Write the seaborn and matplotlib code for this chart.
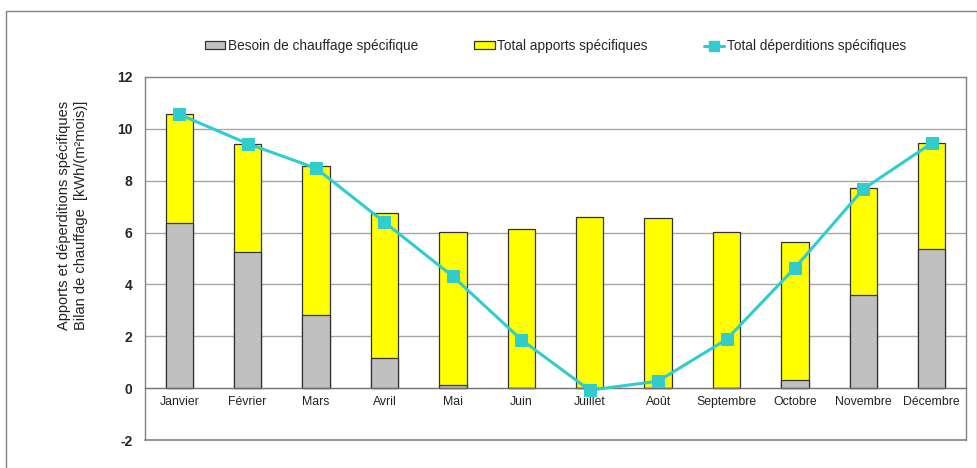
import matplotlib
matplotlib.use('Agg')
import numpy as np
import pandas as pd
import matplotlib.pyplot as plt
from matplotlib.patches import Patch, Rectangle
from matplotlib.lines import Line2D
import seaborn as sns

mois = ['Janvier', 'Février', 'Mars', 'Avril', 'Mai', 'Juin', 'Juillet',
        'Août', 'Septembre', 'Octobre', 'Novembre', 'Décembre']
besoin = [6.35, 5.24, 2.83, 1.17, 0.11, 0.0, 0.0, 0.0, 0.0, 0.31, 3.58, 5.36]
apports = [4.21, 4.19, 5.74, 5.58, 5.93, 6.14, 6.60, 6.55, 6.01, 5.31, 4.12, 4.09]
deperditions = [10.56, 9.43, 8.48, 6.40, 4.31, 1.87, -0.08, 0.27, 1.88, 4.64, 7.68, 9.45]
y_ticks = [-2, 0, 2, 4, 6, 8, 10, 12]

sns.set_style('white')
plt.rcParams['font.family'] = ['Liberation Sans', 'DejaVu Sans']
plt.rcParams['axes.unicode_minus'] = False

df = pd.DataFrame({'mois': mois, 'besoin': besoin, 'apports': apports,
                   'deperditions': deperditions})
df['total'] = df['besoin'] + df['apports']

GRAY = '#C0C0C0'
YELLOW = '#FFFF00'
CYAN = '#33CCCC'
BOX = '#808080'

fig = plt.figure(figsize=(9.78, 4.68), dpi=100)
ax = fig.add_axes([145 / 978, 1 - 440 / 468, 821 / 978, 363 / 468])

# yellow = besoin + apports, gray drawn over the lower part
sns.barplot(x='mois', y='total', data=df, color=YELLOW, saturation=1, width=0.4,
            edgecolor='#333333', linewidth=0.9, ax=ax, zorder=2)
sns.barplot(x='mois', y='besoin', data=df, color=GRAY, saturation=1, width=0.4,
            edgecolor='#333333', linewidth=0.9, ax=ax, zorder=2)
sns.lineplot(x=np.arange(len(mois)), y=df['deperditions'], color=CYAN, marker='s',
             markersize=9, markeredgecolor=CYAN, linewidth=2.2, ax=ax, zorder=4)

ax.set_xlim(-0.5, len(mois) - 0.5)
ax.set_ylim(-2, 12)
ax.set_yticks(y_ticks)
ax.set_xlabel('')
ax.set_ylabel('')

for v in [2, 4, 6, 8, 10]:
    ax.axhline(v, color='#A6A6A6', lw=1, zorder=0)

# x axis sits at zero, box closes at -2
for s in ['top', 'left', 'right']:
    ax.spines[s].set_color(BOX)
    ax.spines[s].set_linewidth(1)
ax.spines['bottom'].set_position(('data', 0))
ax.spines['bottom'].set_color('#707070')
ax.spines['bottom'].set_linewidth(1)
ax.axhline(-2, color=BOX, lw=1.2, clip_on=False, zorder=5)

ax.set_xticks(np.arange(-0.5, len(mois), 1), minor=True)
ax.tick_params(axis='x', which='major', length=0, pad=6, labelsize=8.8, colors='#222222')
ax.tick_params(axis='x', which='minor', length=4, direction='out', color=BOX)
ax.tick_params(axis='y', length=5, direction='out', color=BOX, pad=4, labelsize=10)
for t in ax.get_yticklabels():
    t.set_fontweight('bold')

fig.text(72.5 / 978, 1 - 215 / 468,
         'Apports et déperditions spécifiques\nBilan de chauffage  [kWh/(m²mois)]',
         rotation=90, ha='center', va='center', multialignment='center',
         fontsize=10.5, color='#222222', linespacing=1.35)

handles = [Patch(facecolor=GRAY, edgecolor='#333333', lw=0.9),
           Patch(facecolor=YELLOW, edgecolor='#333333', lw=0.9),
           Line2D([], [], color=CYAN, marker='s', markersize=7, lw=2.2)]
labels = ['Besoin de chauffage spécifique', 'Total apports spécifiques',
          'Total déperditions spécifiques']
fig.legend(handles, labels, ncol=3, loc='center', bbox_to_anchor=(0.568, 1 - 46 / 468),
           frameon=False, fontsize=9.8, handlelength=1.5, handleheight=0.5,
           handletextpad=0.2, columnspacing=4.1)

fig.add_artist(Rectangle((6 / 978, -0.05), 971 / 978, 457 / 468 + 0.05,
                         transform=fig.transFigure, fill=False, ec=BOX, lw=1))

fig.savefig('out.png', dpi=100)
